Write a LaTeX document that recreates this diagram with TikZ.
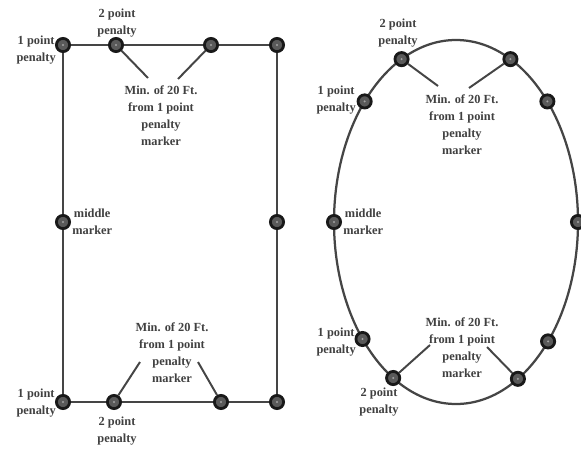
\documentclass[tikz,border=0pt]{standalone}
\usepackage{fontspec}
\setmainfont{Liberation Serif}
\usetikzlibrary{positioning, backgrounds}
\definecolor{trackcolor}{rgb}{0.27, 0.27, 0.27}
\definecolor{markcolor}{rgb}{0.1, 0.1, 0.1}
\definecolor{notecolor}{rgb}{0.25, 0.25, 0.25}
\tikzset{marker/.style={circle, draw=markcolor, fill=markcolor!72!white, line width=2pt, minimum size=3.3mm, inner sep=0pt, path picture={\fill[markcolor!40!white] (path picture bounding box.center) circle (0.8pt);}}}
\tikzset{notetext/.style={align=center, inner sep=0pt, text=notecolor, font=\fontsize{8.8}{12}\selectfont\bfseries}}
\tikzset{track/.style={draw=trackcolor, line width=1.6pt}}
\tikzset{leader/.style={draw=trackcolor, line width=1.4pt}}

\begin{document}
\begin{tikzpicture}[x=0.25mm, y=-0.25mm]
	\useasboundingbox (0,0) rectangle (581,451);
	
	%%% NODES %%%
	
	% RECTANGLE MARKERS
	\node[marker] at (63,45) (rtl) {};
	\node[marker] at (116,45) (rt2) {};
	\node[marker] at (211,45) (rtm) {};
	\node[marker] at (277,45) (rtr) {};
	\node[marker] at (63,222) (rml) {};
	\node[marker] at (277,222) (rmr) {};
	\node[marker] at (63,402) (rbl) {};
	\node[marker] at (114,402) (rb2) {};
	\node[marker] at (221,402) (rbm) {};
	\node[marker] at (277,402) (rbr) {};
	
	% RECTANGLE TEXTS
	\node[notetext] at (117,23) (rt2text) {2 point\\penalty};
	\node[notetext, anchor=east] at (56,50) (rtltext) {1 point\\penalty};
	\node[notetext] at (161,116) (rtmtext) {Min. of 20 Ft.\\from 1 point\\penalty\\marker};
	\node[notetext, anchor=west] at (72,222) (rmltext) {middle\\marker};
	\node[notetext] at (172,353) (rbmtext) {Min. of 20 Ft.\\from 1 point\\penalty\\marker};
	\node[notetext, anchor=east] at (56,403) (rbltext) {1 point\\penalty};
	\node[notetext] at (117,431) (rb2text) {2 point\\penalty};
	
	% OVAL TRACK
	\draw[track] (456,222) ellipse [x radius=122, y radius=182];
	\begin{scope}[shift={(456,222)}]
		\node[marker] at (243.5:122 and 182) (ot2) {};
		\node[marker] at (296.5:122 and 182) (otm) {};
		\node[marker] at (221.5:122 and 182) (ot1l) {};
		\node[marker] at (318.5:122 and 182) (ot1r) {};
		\node[marker] at (180:122 and 182) (oml) {};
		\node[marker] at (0:122 and 182) (omr) {};
		\node[marker] at (140:122 and 182) (ob1l) {};
		\node[marker] at (121:122 and 182) (ob2) {};
		\node[marker] at (59.5:122 and 182) (obm) {};
		\node[marker] at (41:122 and 182) (ob1r) {};
	\end{scope}
	
	% OVAL TEXTS
	\node[notetext] at (398,33) (ot2text) {2 point\\penalty};
	\node[notetext, anchor=east] at (356,100) (ot1ltext) {1 point\\penalty};
	\node[notetext] at (462,125) (otmtext) {Min. of 20 Ft.\\from 1 point\\penalty\\marker};
	\node[notetext, anchor=west] at (343,222) (omltext) {middle\\marker};
	\node[notetext, anchor=east] at (356,342) (ob1ltext) {1 point\\penalty};
	\node[notetext] at (379,402) (ob2text) {2 point\\penalty};
	\node[notetext] at (462,348) (obmtext) {Min. of 20 Ft.\\from 1 point\\penalty\\marker};
	
	%%% EXTRA LEADER NODES %%%
	\coordinate (e0) at (148,78);
	\coordinate (e1) at (178,79);
	\coordinate (e2) at (140,362);
	\coordinate (e3) at (198,362);
	\coordinate (e4) at (438,86);
	\coordinate (e5) at (469,88);
	\coordinate (e6) at (430,345);
	\coordinate (e7) at (487,347);
	
	%%% LINES %%%
	
	% RECTANGLE TRACK
	\begin{pgfonlayer}{background}
		\draw[track] (rtl.center) -- (rtr.center) -- (rbr.center) -- (rbl.center) -- cycle;
	\end{pgfonlayer}
	
	% LEADERS
	\draw[leader] (rt2) -- (e0);
	\draw[leader] (rtm) -- (e1);
	\draw[leader] (rb2) -- (e2);
	\draw[leader] (rbm) -- (e3);
	\draw[leader] (ot2) -- (e4);
	\draw[leader] (otm) -- (e5);
	\draw[leader] (ob2) -- (e6);
	\draw[leader] (obm) -- (e7);
	
\end{tikzpicture}
\end{document}
